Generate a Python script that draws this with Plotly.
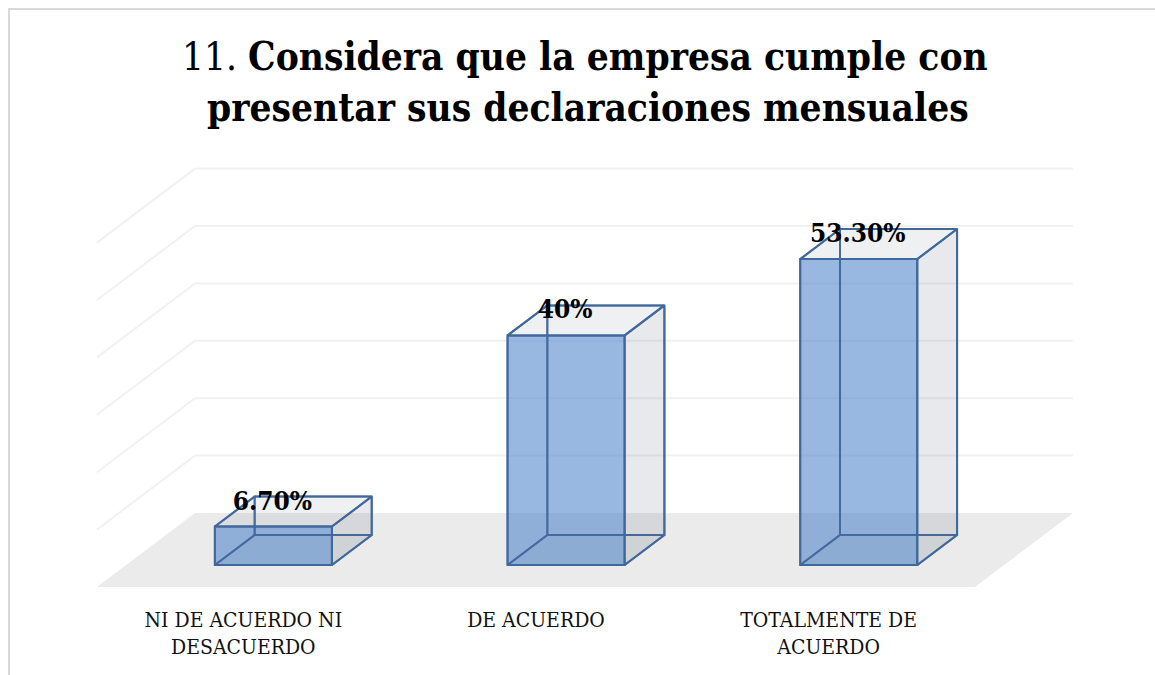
import plotly.graph_objects as go

categories = ["NI DE ACUERDO NI<br>DESACUERDO", "DE ACUERDO", "TOTALMENTE DE<br>ACUERDO"]
values = [6.7, 40, 53.3]
value_labels = ["6.70%", "40%", "53.30%"]
grid_values = [10, 20, 30, 40, 50, 60]
title_lines = ["11. <b>Considera que la empresa cumple con</b>", "<b>presentar sus declaraciones mensuales</b>"]

# oblique projection, everything is in axis units
px_per_cat = 292.67
px_per_pct = 5.74
depth_x = 98 / px_per_cat
depth_y = 74 / px_per_pct
bar_near = 0.297
bar_far = 0.703
bar_width = 0.4
bar_shift = 1 / px_per_cat
label_gap = 23.5 / px_per_pct

edge = "#41689c"
edge_back = "rgba(65,104,156,0.8)"
grid = "#f1f1f1"
font = "DejaVu Serif Condensed"


def project(x, y, d):
    return x + d * depth_x, y + d * depth_y


def face(points, fill, color=edge, width=2):
    xs = [p[0] for p in points] + [points[0][0]]
    ys = [p[1] for p in points] + [points[0][1]]
    return go.Scatter(
        x=xs, y=ys, mode="lines", fill="toself", fillcolor=fill,
        line=dict(color=color, width=width), hoverinfo="skip", showlegend=False,
    )


fig = go.Figure()

# suelo y lineas de la pared
shapes = []
fl = [project(-0.5, 0, 0), project(2.5, 0, 0), project(2.5, 0, 1), project(-0.5, 0, 1)]
path = "M " + " L ".join(f"{a},{b}" for a, b in fl) + " Z"
shapes.append(dict(type="path", path=path, fillcolor="#ebebeb", line_width=0, layer="below"))
for g in grid_values:
    x0, y0 = project(-0.5, g, 0)
    x1, y1 = project(-0.5, g, 1)
    x2, y2 = project(2.5, g, 1)
    path = f"M {x0},{y0} L {x1},{y1} L {x2},{y2}"
    shapes.append(dict(type="path", path=path, line=dict(color=grid, width=2), layer="below"))

# marco del grafico (solo se ven arriba e izquierda)
shapes.append(dict(type="rect", xref="paper", yref="paper", x0=9 / 1155, x1=1.1,
                   y0=-0.3, y1=591 / 600, line=dict(color="#d9d9d9", width=2), layer="below"))

# cara frontal
fig.add_trace(go.Bar(
    x=[i + bar_shift + bar_near * depth_x for i in range(3)],
    y=values,
    base=[bar_near * depth_y] * 3,
    width=bar_width,
    marker=dict(color="rgba(68,126,200,0.55)", line=dict(color=edge, width=2)),
    showlegend=False,
))

# caras interiores, lateral y superior
for i, v in enumerate(values):
    l = i + bar_shift - bar_width / 2
    r = i + bar_shift + bar_width / 2
    fig.add_trace(face([project(l, 0, bar_far), project(r, 0, bar_far), project(r, v, bar_far), project(l, v, bar_far)], "rgba(0,0,0,0)", edge_back))
    fig.add_trace(face([project(l, 0, bar_near), project(l, 0, bar_far), project(l, v, bar_far), project(l, v, bar_near)], "rgba(0,0,0,0)", edge_back))
    fig.add_trace(face([project(l, 0, bar_near), project(r, 0, bar_near), project(r, 0, bar_far), project(l, 0, bar_far)], "rgba(68,84,106,0.03)", edge_back))
    fig.add_trace(face([project(r, 0, bar_near), project(r, 0, bar_far), project(r, v, bar_far), project(r, v, bar_near)], "rgba(68,84,106,0.13)"))
    fig.add_trace(face([project(l, v, bar_near), project(r, v, bar_near), project(r, v, bar_far), project(l, v, bar_far)], "rgba(68,84,106,0.09)"))

fig.add_trace(go.Scatter(
    x=[i + bar_near * depth_x for i in range(3)],
    y=[v + bar_near * depth_y + label_gap for v in values],
    mode="text",
    text=value_labels,
    textposition="middle center",
    textfont=dict(family=font, size=26, color="#000000", weight="bold"),
    hoverinfo="skip",
    showlegend=False,
))

for line, cx, py in zip(title_lines, [585, 587.5], [57, 107.5]):
    fig.add_annotation(
        text=line, xref="paper", yref="paper", x=cx / 1155, y=(600 - py) / 600,
        xanchor="center", yanchor="middle", showarrow=False,
        font=dict(family=font, size=38.5, color="#000000"),
    )

fig.update_layout(
    width=1155,
    height=675,
    margin=dict(l=0, r=0, t=0, b=75),
    paper_bgcolor="white",
    plot_bgcolor="white",
    shapes=shapes,
    xaxis=dict(
        range=[-243.3 / px_per_cat, (1155 - 243.3) / px_per_cat],
        tickmode="array",
        tickvals=[0, 1, 2],
        ticktext=categories,
        showgrid=False,
        zeroline=False,
        ticks="",
        ticklabelstandoff=5,
        tickfont=dict(family=font, size=21, color="#111111"),
    ),
    yaxis=dict(
        range=[-13 / px_per_pct, 587 / px_per_pct],
        showgrid=False,
        zeroline=False,
        showticklabels=False,
    ),
)

fig.write_html("out.html", config=dict(displayModeBar=False),
               post_script="document.body.style.margin='0'")
